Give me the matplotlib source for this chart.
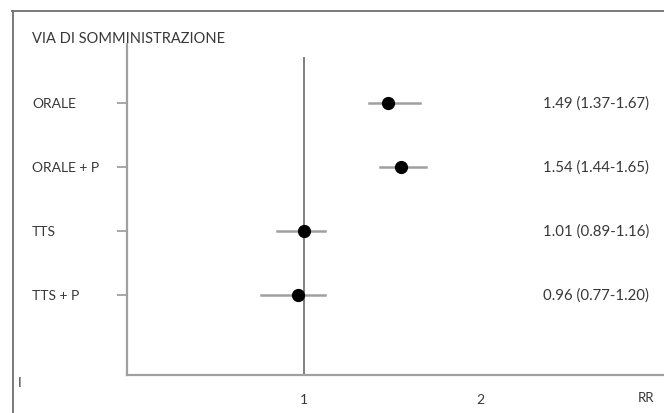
import matplotlib.pyplot as plt
from matplotlib.lines import Line2D
from matplotlib.transforms import blended_transform_factory

# data (whisker ends as drawn in the figure)
categories = ["ORALE", "ORALE + P", "TTS", "TTS + P"]
rr = [1.48, 1.55, 1.00, 0.97]
ci_low = [1.37, 1.43, 0.85, 0.76]
ci_high = [1.66, 1.69, 1.12, 1.12]
labels = ["1.49 (1.37-1.67)", "1.54 (1.44-1.65)", "1.01 (0.89-1.16)", "0.96 (0.77-1.20)"]

W, H = 664, 414
fig = plt.figure(figsize=(W / 100, H / 100), dpi=100)
plt.rcParams['font.family'] = ['Lato', 'DejaVu Sans']
txt = "#383838"

# outer frame (top + left only, runs off the image)
fig.add_artist(Line2D([12 / W, 1], [1 - 11.5 / H] * 2, color="#707070", lw=1.3))
fig.add_artist(Line2D([12.5 / W] * 2, [0, 1 - 11.5 / H], color="#707070", lw=1.3))

ax = fig.add_axes([127 / W, (H - 376) / H, 1 - 127 / W, (376 - 45) / H])
ypos = list(range(len(categories)))
ax.set_xlim(0, (W - 126) / 177)
ax.set_ylim((376 - 104) / 64, (45 - 104) / 64)

for s in ["top", "right"]:
    ax.spines[s].set_visible(False)
for s in ["left", "bottom"]:
    ax.spines[s].set_color("#a0a0a0")
    ax.spines[s].set_linewidth(1.6)

# reference line at RR = 1
ax.plot([1, 1], [(59 - 104) / 64, ax.get_ylim()[0]], color="#808080", lw=1.4, zorder=1)

for i in ypos:
    ax.plot([ci_low[i], ci_high[i]], [i, i], color="#a0a0a0", lw=1.8, zorder=2)
    ax.plot(rr[i], i, "o", color="black", ms=8.5, zorder=3)
    ax.text((543 - 126) / 177, i, labels[i], ha="left", va="center",
            fontsize=10.8, color=txt)

ax.set_yticks(ypos)
ax.set_yticklabels([])
ax.tick_params(axis="y", direction="out", length=7, width=1.3, color="#a0a0a0")
ax.set_xticks([1, 2])
ax.set_xticklabels(["1", "2"], fontsize=10, color=txt)
ax.tick_params(axis="x", length=0, pad=13)

tr = blended_transform_factory(fig.transFigure, ax.transData)
for i, c in enumerate(categories):
    ax.text(32 / W, i, c, transform=tr, ha="left", va="center", fontsize=10, color=txt)

fig.text(32 / W, 1 - 39 / H, "VIA DI SOMMINISTRAZIONE", ha="left", va="center",
         fontsize=10.5, color=txt)
fig.text(646 / W, 1 - 398 / H, "RR", ha="center", va="center", fontsize=9.5, color=txt)
fig.text(20 / W, 1 - 383 / H, "I", ha="center", va="center", fontsize=9.5, color=txt)

fig.savefig("out.png", dpi=100)
